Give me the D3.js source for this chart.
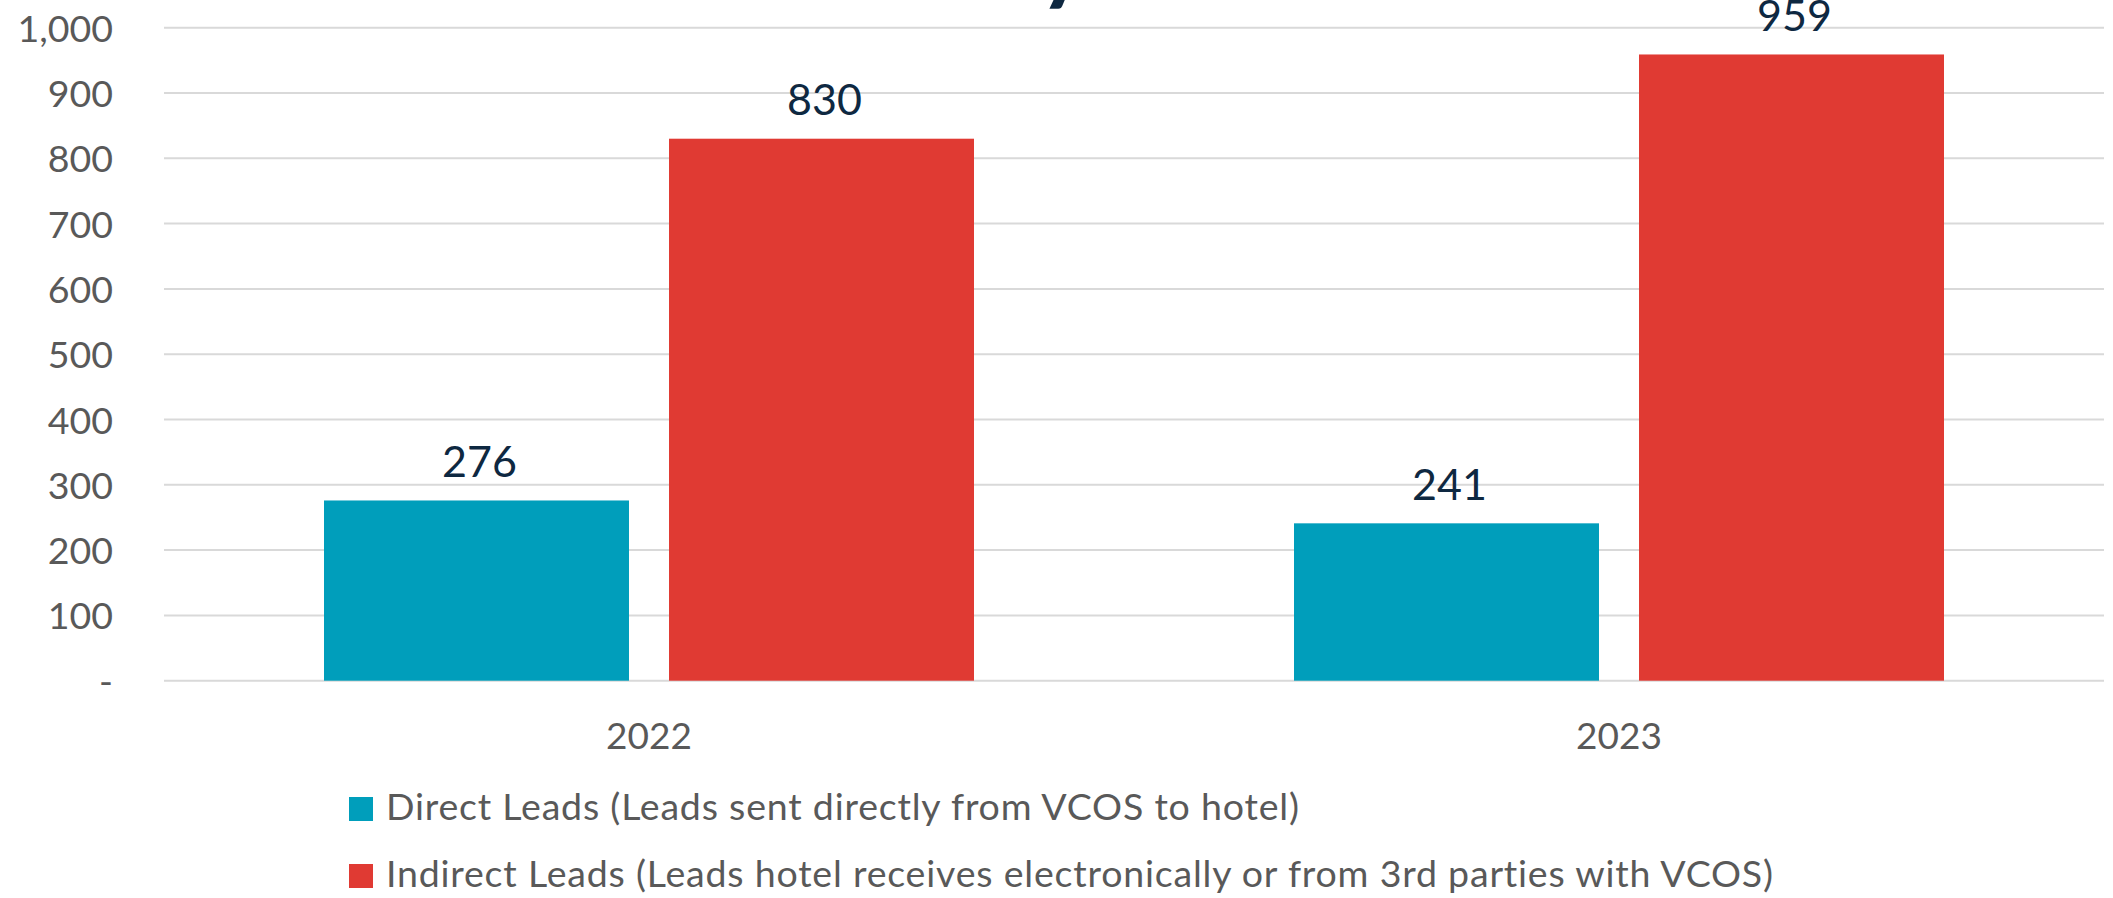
<!DOCTYPE html>
<html>
<head>
<meta charset="utf-8">
<script src="https://cdn.jsdelivr.net/npm/d3@7"></script>
<style>
  html, body { margin: 0; padding: 0; background: #ffffff; overflow: hidden; }
  svg { display: block; }
  text { font-family: Lato, "Open Sans", sans-serif; }
</style>
</head>
<body>
<svg id="chart" width="2113" height="898"></svg>
<script>
// ---- data ----
const categories = ["2022", "2023"];
const seriesNames = [
  "Direct Leads (Leads sent directly from VCOS to hotel)",
  "Indirect Leads (Leads hotel receives electronically or from 3rd parties with VCOS)"
];
const directLeads = [276, 241];
const indirectLeads = [830, 959];
const yTicks = [0, 100, 200, 300, 400, 500, 600, 700, 800, 900, 1000];
const seriesColors = ["#009EBB", "#E03A33"];

// ---- layout ----
const W = 2113, H = 898;
const plot = { left: 164, right: 2104, top: 27.7, bottom: 680.7 };

const svg = d3.select("#chart");

// partially visible title glyph above the chart (cut off, as in the reference)
svg.append("text")
  .attr("x", 1040).attr("y", -6)
  .attr("font-size", 86).attr("font-weight", 900)
  .attr("fill", "#0E2841")
  .text("y");

const x0 = d3.scaleBand().domain(categories).range([plot.left, plot.right]).padding(0);
const x1 = d3.scaleBand().domain([0, 1]).range([-325, 325]).paddingInner(0.116).paddingOuter(0);
const y = d3.scaleLinear().domain([0, 1000]).range([plot.bottom, plot.top]);

// gridlines
svg.append("g").selectAll("line").data(yTicks).join("line")
  .attr("x1", plot.left).attr("x2", plot.right)
  .attr("y1", d => y(d)).attr("y2", d => y(d))
  .attr("stroke", "#D9D9D9").attr("stroke-width", 2);

// y axis labels
const yAxis = d3.axisLeft(y).tickValues(yTicks).tickSize(0).tickPadding(0)
  .tickFormat(d => d === 0 ? "-" : d3.format(",")(d));
const gy = svg.append("g").attr("transform", `translate(113,0)`).call(yAxis);
gy.select(".domain").remove();
gy.selectAll("text")
  .attr("font-family", "Lato, sans-serif")
  .attr("font-size", 37.5).attr("fill", "#595959")
  .attr("dy", "0.36em");

// x axis labels
const xAxis = d3.axisBottom(x0).tickSize(0).tickPadding(0);
const gx = svg.append("g").attr("transform", `translate(0,${plot.bottom})`).call(xAxis);
gx.select(".domain").remove();
gx.selectAll("text")
  .attr("font-family", "Lato, sans-serif")
  .attr("font-size", 37).attr("fill", "#595959")
  .attr("dy", null).attr("y", 68.6);

// bars
const rows = categories.map((c, i) => ({ cat: c, vals: [directLeads[i], indirectLeads[i]] }));
const groups = svg.append("g").selectAll("g").data(rows).join("g")
  .attr("transform", d => `translate(${x0(d.cat) + x0.bandwidth() / 2},0)`);

groups.selectAll("rect").data(d => d.vals.map((v, k) => ({ v, k }))).join("rect")
  .attr("x", d => x1(d.k))
  .attr("width", x1.bandwidth())
  .attr("y", d => y(d.v))
  .attr("height", d => y(0) - y(d.v))
  .attr("fill", d => seriesColors[d.k]);

groups.selectAll("text.val").data(d => d.vals.map((v, k) => ({ v, k }))).join("text")
  .attr("class", "val")
  .attr("x", d => x1(d.k) + x1.bandwidth() / 2 + 3)
  .attr("y", d => y(d.v) - 23.7)
  .attr("text-anchor", "middle")
  .attr("font-size", 43).attr("fill", "#0E2841")
  .text(d => d3.format(",")(d.v));

// legend
const legend = svg.append("g").selectAll("g").data(seriesNames).join("g")
  .attr("transform", (d, i) => `translate(349,${[797, 864][i]})`);
legend.append("rect").attr("width", 24).attr("height", 24)
  .attr("fill", (d, i) => seriesColors[i]);
legend.append("text").attr("x", 37).attr("y", 23)
  .attr("font-size", 37.5).attr("letter-spacing", 0.8).attr("fill", "#595959")
  .text(d => d);
</script>
</body>
</html>
